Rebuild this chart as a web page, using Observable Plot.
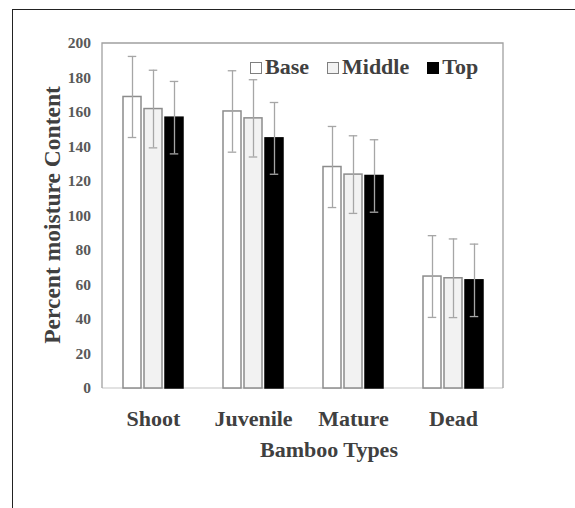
<!DOCTYPE html>
<html>
<head>
<meta charset="utf-8">
<script src="https://cdn.jsdelivr.net/npm/d3@7"></script>
<script src="https://cdn.jsdelivr.net/npm/@observablehq/plot@0.6"></script>
<style>
  html, body { margin: 0; padding: 0; background: #fff; }
  body { width: 575px; height: 508px; overflow: hidden; position: relative;
         font-family: "Liberation Serif", "Times New Roman", serif; font-weight: bold; }
  #outer { position: absolute; left: 12px; top: 9px; width: 700px; height: 700px;
           border: 1.5px solid #222; box-sizing: border-box; }
  #chart { position: absolute; left: 0; top: 0; }
  #legend { position: absolute; left: 250px; top: 55.6px; font-size: 22px; line-height: 22px;
            color: #404040; white-space: nowrap; }
  #legend .item { display: inline-block; margin-right: 18px; }
  #legend .sw { display: inline-block; width: 10px; height: 10px; border: 1.5px solid #7f7f7f;
                margin-right: 3px; vertical-align: baseline; }
  #xtitle { position: absolute; left: 260px; top: 438.6px; font-size: 22px; line-height: 22px;
            color: #404040; white-space: nowrap; }
  #ytitle { position: absolute; left: 53px; top: 215px; font-size: 23.5px; line-height: 23.5px;
            color: #404040; white-space: nowrap; transform: translate(-50%, -50%) rotate(-90deg); }
</style>
</head>
<body>
<div id="outer"></div>
<div id="chart"></div>
<div id="legend"></div>
<div id="xtitle"></div>
<div id="ytitle"></div>
<script>
// ---- data ----
const types = ["Shoot", "Juvenile", "Mature", "Dead"];
const parts = ["Base", "Middle", "Top"];
const baseMean   = [169.0, 160.6, 128.4, 64.9];
const middleMean = [162.0, 156.6, 124.0, 63.9];
const topMean    = [157.0, 145.0, 123.2, 62.7];
const baseErr    = [23.5, 23.6, 23.5, 23.7];
const middleErr  = [22.5, 22.4, 22.5, 22.8];
const topErr     = [21.0, 20.8, 21.0, 21.0];
const yTicks = [0, 20, 40, 60, 80, 100, 120, 140, 160, 180, 200];
const xTitle = "Bamboo Types";
const yTitle = "Percent moisture Content";

// ---- build table ----
const means = {Base: baseMean, Middle: middleMean, Top: topMean};
const errs = {Base: baseErr, Middle: middleErr, Top: topErr};
const data = [];
types.forEach((t, i) => parts.forEach(p => data.push({type: t, part: p, mean: means[p][i], err: errs[p][i]})));

const fills = {Base: "#ffffff", Middle: "#f2f2f2", Top: "#000000"};
const strokes = {Base: "#8c8c8c", Middle: "#8c8c8c", Top: "#000000"};

const W = 575, H = 508, mL = 102, mR = 72, mT = 43, mB = 120;

const plot = Plot.plot({
  width: W, height: H,
  marginLeft: mL, marginRight: mR, marginTop: mT, marginBottom: mB,
  style: {fontFamily: "Liberation Serif, serif", fontWeight: "bold", background: "transparent", overflow: "visible"},
  fx: {domain: types, paddingInner: 0.38, paddingOuter: 0.195, label: null},
  x: {domain: parts, paddingInner: 0.149, paddingOuter: 0, axis: null},
  y: {domain: [0, 200], axis: null},
  marks: [
    Plot.barY(data, {fx: "type", x: "part", y: "mean",
      fill: d => fills[d.part], stroke: d => strokes[d.part], strokeWidth: 1.5}),
    Plot.ruleX(data, {fx: "type", x: "part", y1: d => d.mean - d.err, y2: d => d.mean + d.err,
      stroke: "#a6a6a6", strokeWidth: 1.3}),
    Plot.tickY(data, {fx: "type", x: "part", y: d => d.mean + d.err, insetLeft: 4.75, insetRight: 4.75,
      stroke: "#a6a6a6", strokeWidth: 1.3}),
    Plot.tickY(data, {fx: "type", x: "part", y: d => d.mean - d.err, insetLeft: 4.75, insetRight: 4.75,
      stroke: "#a6a6a6", strokeWidth: 1.3}),
    Plot.axisY({ticks: yTicks, tickSize: 0, tickPadding: 31.5, fontSize: 15.5, fill: "#595959", label: null}),
    Plot.axisFx({anchor: "bottom", tickSize: 0, tickPadding: 22, fontSize: 22, fill: "#404040", label: null})
  ]
});

// plot frame (top/left/right gray, bottom axis line light gray), via the plot's own y scale
const ys = plot.scale("y");
const yTop = ys.apply(200), yBot = ys.apply(0);
const svg = d3.select(plot);
svg.insert("path", ":first-child")
  .attr("d", `M${mL},${yBot}V${yTop}H${W - mR}V${yBot}`)
  .attr("fill", "none").attr("stroke", "#a0a0a0").attr("stroke-width", 1.3);
svg.insert("path", ":first-child")
  .attr("d", `M${mL},${yBot}H${W - mR}`)
  .attr("fill", "none").attr("stroke", "#d9d9d9").attr("stroke-width", 1.3);

document.getElementById("chart").appendChild(plot);

// legend
const legend = d3.select("#legend");
parts.forEach(p => {
  const it = legend.append("span").attr("class", "item");
  it.append("span").attr("class", "sw").style("background", fills[p])
    .style("border-color", p === "Top" ? "#000" : "#7f7f7f");
  it.append("span").text(p);
});
document.getElementById("xtitle").textContent = xTitle;
document.getElementById("ytitle").textContent = yTitle;
</script>
</body>
</html>
